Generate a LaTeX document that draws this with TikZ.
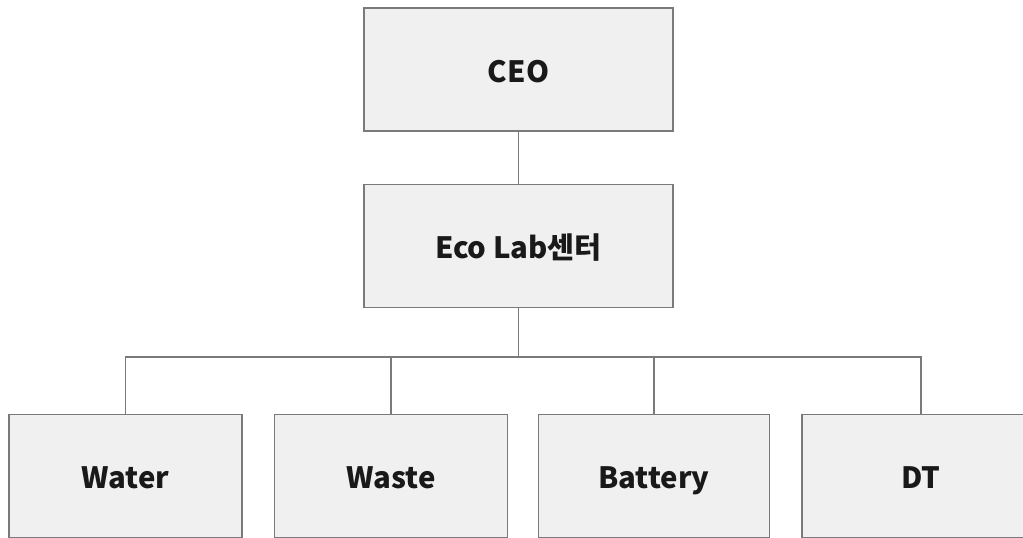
\documentclass[tikz,border=0pt]{standalone}
\usepackage{fontspec}
\setmainfont{Noto Sans CJK KR}
\usetikzlibrary{positioning}

\tikzset{
  orgbox/.style={draw=boxline,fill=boxfill,line width=1.3pt,
    minimum width=#1*0.75pt,minimum height=123*0.75pt,
    text height=20pt,text depth=0.8pt,
    font=\bfseries\fontsize{22}{26}\selectfont,text=black!90},
  orgbox/.default=233,
  orgline/.style={draw=boxline,line width=1.1pt}
}
\definecolor{boxfill}{HTML}{F0F0F0}
\definecolor{boxline}{HTML}{7A7A7A}

\begin{document}
\begin{tikzpicture}[x=0.75pt,y=-0.75pt]
        \useasboundingbox (0,0) rectangle (1023,538);
        % top of the chart
        \node[orgbox=309] (ceo) at (518.5,69.5) {CEO};
        \node[orgbox=309] (eco) at (518.5,246) {Eco Lab센터};
        % teams
        \node[orgbox] (water) at (125.5,476) {Water};
        \node[orgbox] (waste) at (391,476) {Waste};
        \node[orgbox=231] (battery) at (654,476) {Battery};
        \node[orgbox=238] (dt) at (921,476) {DT};
        \coordinate (bus) at (518.5,357);
        \draw[orgline] (ceo.south) -- (eco.north);
        \draw[orgline] (eco.south) -- (bus);
        \draw[orgline] (bus) -| (water.north);
        \draw[orgline] (bus) -| (waste.north);
        \draw[orgline] (bus) -| (battery.north);
        \draw[orgline] (bus) -| (dt.north);
\end{tikzpicture}
\end{document}
